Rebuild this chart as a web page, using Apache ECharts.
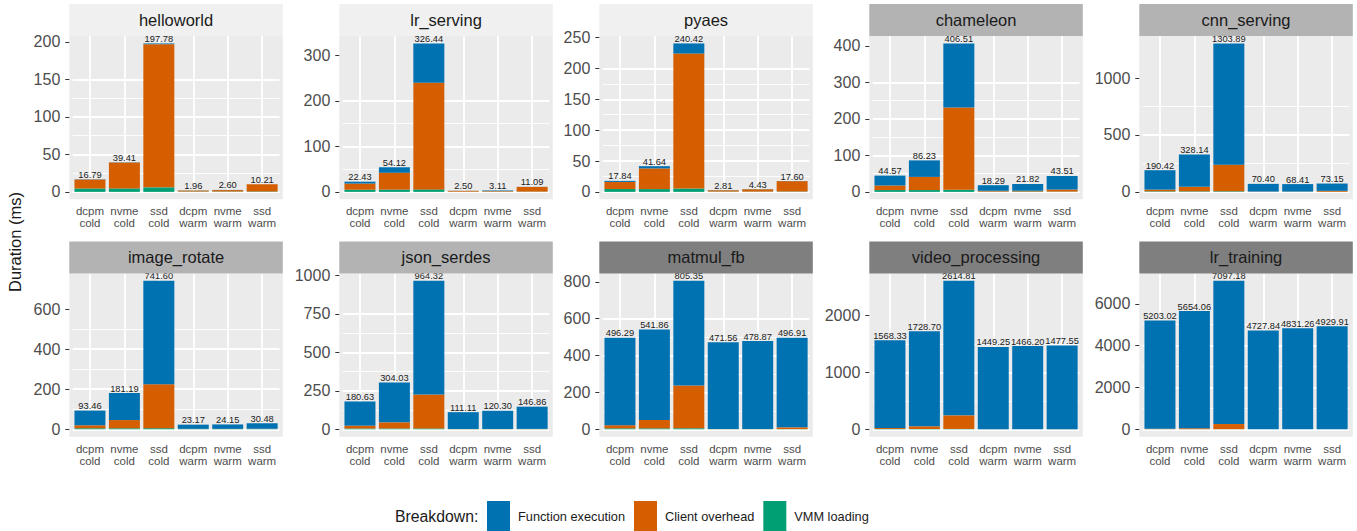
<!DOCTYPE html>
<html>
<head>
<meta charset="utf-8">
<title>Duration breakdown</title>
<script src="https://cdn.jsdelivr.net/npm/echarts@6/dist/echarts.min.js"></script>
<style>
    html, body { margin: 0; padding: 0; background: #fff; }
    #duration_chart_content { width: 1357px; height: 531px; }
</style>
</head>
<body>
<div id="duration_chart_content"></div>
<script>
// one facet per benchmark
var benchmarks = ['helloworld', 'lr_serving', 'pyaes', 'chameleon', 'cnn_serving',
                  'image_rotate', 'json_serdes', 'matmul_fb', 'video_processing', 'lr_training'];
var categories = ['dcpm\ncold', 'nvme\ncold', 'ssd\ncold', 'dcpm\nwarm', 'nvme\nwarm', 'ssd\nwarm'];
var stripLevel = [0, 0, 0, 1, 1, 1, 1, 2, 2, 2];

// stacked parts, bottom to top (ms)
var vmmLoading = [
    [4.5, 4.6, 6.0, 0.5, 0.5, 0.6],
    [4.8, 5.0, 5.5, 0.5, 0.5, 0.6],
    [4.6, 4.5, 5.4, 0.5, 0.5, 0.6],
    [5.0, 5.0, 5.5, 0.8, 0.8, 0.8],
    [5.0, 5.0, 5.5, 1.0, 1.0, 1.0],
    [5.0, 5.0, 5.5, 1.0, 1.0, 1.0],
    [5.0, 5.0, 5.5, 1.0, 1.0, 1.0],
    [5.0, 5.0, 5.5, 1.0, 1.0, 1.0],
    [5.0, 5.0, 5.5, 1.0, 1.0, 1.0],
    [5.0, 5.0, 5.5, 1.0, 1.0, 1.0]
];
var clientOverhead = [
    [12.0, 34.5, 190.8, 1.3, 1.9, 9.4],
    [13.5, 37.0, 234.5, 1.8, 1.3, 10.3],
    [11.5, 33.5, 218.6, 2.1, 3.7, 16.8],
    [12.5, 36.0, 225.5, 2.2, 2.2, 5.6],
    [15.0, 39.0, 233.5, 2.0, 2.0, 8.0],
    [15.0, 41.0, 219.5, 1.0, 1.0, 1.5],
    [18.5, 40.0, 220.0, 1.0, 1.0, 1.5],
    [17.0, 45.5, 232.5, 1.0, 1.0, 9.5],
    [17.0, 47.0, 239.5, 1.0, 1.0, 1.5],
    [18.0, 45.0, 245.0, 1.0, 1.0, 1.5]
];
var functionExecution = [
    [0.29, 0.31, 0.98, 0.16, 0.20, 0.21],
    [4.13, 12.12, 86.44, 0.20, 1.31, 0.19],
    [1.74, 3.64, 16.42, 0.21, 0.23, 0.20],
    [27.07, 45.23, 175.51, 15.29, 18.82, 37.11],
    [170.42, 284.14, 1064.89, 67.40, 65.41, 64.15],
    [73.46, 135.19, 516.60, 21.17, 22.15, 27.98],
    [157.13, 259.03, 738.82, 109.11, 118.30, 144.36],
    [474.29, 491.36, 567.35, 469.56, 476.87, 486.41],
    [1546.33, 1676.70, 2369.81, 1447.25, 1464.20, 1475.05],
    [5180.02, 5604.06, 6846.68, 4725.84, 4829.26, 4927.41]
];
// printed totals above the bars
var totals = [
    [16.79, 39.41, 197.78, 1.96, 2.60, 10.21],
    [22.43, 54.12, 326.44, 2.50, 3.11, 11.09],
    [17.84, 41.64, 240.42, 2.81, 4.43, 17.60],
    [44.57, 86.23, 406.51, 18.29, 21.82, 43.51],
    [190.42, 328.14, 1303.89, 70.40, 68.41, 73.15],
    [93.46, 181.19, 741.60, 23.17, 24.15, 30.48],
    [180.63, 304.03, 964.32, 111.11, 120.30, 146.86],
    [496.29, 541.86, 805.35, 471.56, 478.87, 496.91],
    [1568.33, 1728.70, 2614.81, 1449.25, 1466.20, 1477.55],
    [5203.02, 5654.06, 7097.18, 4727.84, 4831.26, 4929.91]
];
var yTicks = [
    [0, 50, 100, 150, 200],
    [0, 100, 200, 300],
    [0, 50, 100, 150, 200, 250],
    [0, 100, 200, 300, 400],
    [0, 500, 1000],
    [0, 200, 400, 600],
    [0, 250, 500, 750, 1000],
    [0, 200, 400, 600, 800],
    [0, 1000, 2000],
    [0, 2000, 4000, 6000]
];
var yMinorTicks = [
    [25, 75, 125, 175],
    [50, 150, 250],
    [25, 75, 125, 175, 225],
    [50, 150, 250, 350],
    [250, 750, 1250],
    [100, 300, 500, 700],
    [125, 375, 625, 875],
    [100, 300, 500, 700],
    [500, 1500, 2500],
    [1000, 3000, 5000, 7000]
];

var FONT = '"Liberation Sans", Arial, Helvetica, sans-serif';
var colors = { fn: '#0072B2', client: '#D55E00', vmm: '#009E73' };
var stripColors = ['#f0f0f0', '#b3b3b3', '#7f7f7f'];

var panelLeft = [69.3, 339.3, 599.3, 869.3, 1139.3];
var panelTop = [36, 273.4];
var panelW = 213.5, panelH = 163.3, stripH = 32;

var grid = [], xAxis = [], yAxis = [], series = [];
var graphic = [
    { type: 'text', x: 15, y: 242, rotation: Math.PI / 2, z: 100,
      style: { text: 'Duration (ms)', fill: '#1a1a1a', fontSize: 16.5, fontFamily: FONT, align: 'center', verticalAlign: 'middle' } },
    { type: 'text', x: 395, y: 516.5, z: 100,
      style: { text: 'Breakdown:', fill: '#1a1a1a', fontSize: 15.8, fontFamily: FONT, align: 'left', verticalAlign: 'middle' } }
];

benchmarks.forEach(function (name, i) {
    var L = panelLeft[i % 5], T = panelTop[Math.floor(i / 5)];
    var unit = panelW / 6.2, inset = unit * 0.1;
    var yMax = Math.max.apply(null, totals[i]) * 1.05;
    var gridH = panelH * 1.05 / 1.1;
    var pad = panelH - gridH;
    var major = yTicks[i][1] - yTicks[i][0];

    graphic.push({ type: 'rect', z: -10, shape: { x: L, y: T, width: panelW, height: panelH }, style: { fill: '#ebebeb' } });
    graphic.push({ type: 'rect', z: 50, shape: { x: L, y: T - stripH, width: panelW, height: stripH }, style: { fill: stripColors[stripLevel[i]] } });
    graphic.push({ type: 'text', z: 60, x: L + panelW / 2, y: T - stripH / 2,
        style: { text: name, fill: '#1a1a1a', fontSize: 16.5, fontFamily: FONT, align: 'center', verticalAlign: 'middle' } });

    grid.push({ left: L + inset, top: T, width: unit * 6, height: gridH, containLabel: false, outerBoundsMode: 'none' });

    xAxis.push({
        type: 'category', gridIndex: i, data: categories, offset: pad,
        axisLine: { show: false },
        axisTick: { alignWithLabel: true, interval: 0, length: 4, lineStyle: { color: '#333333', width: 1 } },
        axisLabel: { interval: 0, margin: 6, fontSize: 11.5, lineHeight: 12, color: '#4d4d4d', fontFamily: FONT },
        splitLine: { show: true, interval: 0, alignWithLabel: true, lineStyle: { color: '#ffffff', width: 1.8 } }
    });
    yAxis.push({
        type: 'value', gridIndex: i, min: 0, max: yMax, interval: major, offset: inset, position: 'left',
        axisLine: { show: false },
        axisTick: { show: true, length: 4, customValues: yTicks[i], lineStyle: { color: '#333333', width: 1 } },
        axisLabel: { customValues: yTicks[i], margin: 9, fontSize: 16, color: '#4d4d4d', fontFamily: FONT,
                     formatter: function (v) { return String(v); } },
        splitLine: { show: true, showMaxLine: false, lineStyle: { color: '#ffffff', width: 1.8 } }
    });
    yAxis.push({
        type: 'value', gridIndex: i, min: 0, max: yMax, interval: major / 2, position: 'left',
        axisLine: { show: false },
        axisTick: { show: false, customValues: yMinorTicks[i] },
        axisLabel: { show: false },
        splitLine: { show: true, showMaxLine: false, lineStyle: { color: '#ffffff', width: 0.9 } }
    });

    var base = { type: 'bar', xAxisIndex: i, yAxisIndex: 2 * i, stack: 'p' + i, barCategoryGap: '10%',
                 emphasis: { disabled: true }, animation: false };
    series.push(Object.assign({}, base, { name: 'VMM loading', data: vmmLoading[i], itemStyle: { color: colors.vmm } }));
    series.push(Object.assign({}, base, { name: 'Client overhead', data: clientOverhead[i], itemStyle: { color: colors.client } }));
    series.push(Object.assign({}, base, {
        name: 'Function execution', data: functionExecution[i], itemStyle: { color: colors.fn },
        label: { show: true, position: 'top', distance: 0, fontSize: 9.3, lineHeight: 9, color: '#1a1a1a', fontFamily: FONT,
                 formatter: function (p) { return totals[i][p.dataIndex].toFixed(2); } }
    }));
});

var chart = echarts.init(document.getElementById('duration_chart_content'), null, { renderer: 'svg' });
chart.setOption({
    animation: false,
    backgroundColor: '#ffffff',
    textStyle: { fontFamily: FONT },
    legend: {
        left: 487, top: 501, padding: 0, itemWidth: 23, itemHeight: 30, itemGap: 9, icon: 'rect', selectedMode: false,
        data: ['Function execution', 'Client overhead', 'VMM loading'],
        itemStyle: { borderWidth: 0 },
        textStyle: { fontSize: 12.75, color: '#1a1a1a', fontFamily: FONT, padding: [0, 0, 0, 3] }
    },
    grid: grid,
    xAxis: xAxis,
    yAxis: yAxis,
    series: series,
    graphic: graphic
});
window.onresize = function () { chart.resize(); };
</script>
</body>
</html>
